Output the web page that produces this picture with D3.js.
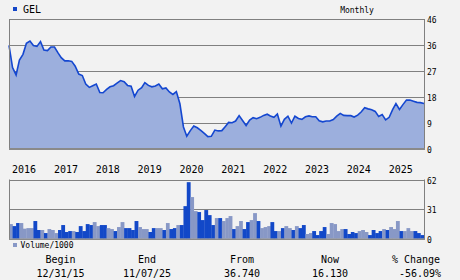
<!DOCTYPE html>
<html>
<head>
<meta charset="utf-8">
<script src="https://cdn.jsdelivr.net/npm/d3@7"></script>
<style>
  html, body { margin: 0; padding: 0; background: #f2f2f2; }
  svg { display: block; }
  text { font-family: "DejaVu Sans Mono", monospace; fill: #000; }
</style>
</head>
<body>
<div id="chart"></div>
<script>
// monthly closes, Dec 2015 .. Nov 2025
const closes = [
  36.7, 28.8, 26.2, 31.5, 33.5, 37.4, 38.2, 36.6, 36.3, 38.0,
  35.0, 34.8, 36.1, 36.1, 34.0, 32.3, 31.2, 31.2, 31.0, 29.3,
  26.5, 26.0, 23.0, 21.8, 22.4, 23.0, 20.0, 19.9, 21.1, 22.0,
  22.4, 23.3, 24.2, 23.8, 22.5, 22.2, 18.6, 20.8, 21.7, 23.5,
  22.5, 22.0, 22.3, 23.0, 21.3, 21.6, 20.2, 19.3, 20.3, 16.0,
  7.8, 4.5, 6.5, 8.1, 7.5, 6.6, 5.5, 4.4, 4.5, 6.7,
  6.4, 6.5, 8.0, 9.4, 9.3, 9.9, 11.8, 10.1, 8.3, 10.2,
  11.1, 10.7, 11.2, 11.9, 12.3, 11.7, 11.2, 12.4, 8.1, 10.5,
  11.6, 9.2, 11.6, 10.8, 10.5, 11.4, 11.7, 11.4, 11.4, 10.0,
  9.6, 9.9, 9.9, 10.4, 11.6, 12.6, 11.9, 11.8, 11.8, 11.3,
  12.0, 13.1, 14.6, 14.2, 13.9, 13.3, 11.5, 12.2, 10.3, 11.2,
  14.0, 16.1, 14.0, 15.7, 17.3, 17.3, 16.9, 16.5, 16.4, 16.13
];

// volume in thousands, one bar per month
const volumes = [
  15.3, 13.2, 16.4, 16.4, 10.5, 11.1, 11.1, 18.5, 9.1, 9.1,
  5.9, 10.1, 9.1, 5.9, 9.1, 14.3, 7.0, 8.0, 8.0, 7.0,
  13.2, 8.0, 15.3, 14.3, 17.4, 13.2, 14.3, 14.3, 11.1, 10.1,
  8.0, 12.2, 17.4, 11.1, 11.1, 9.1, 18.5, 12.2, 10.1, 10.1,
  7.0, 11.1, 11.1, 11.1, 9.1, 16.4, 10.1, 11.1, 14.3, 14.3,
  34.1, 59.2, 43.6, 28.9, 27.9, 19.5, 30.0, 24.7, 14.3, 21.6,
  21.6, 18.5, 21.6, 23.7, 10.1, 13.2, 18.5, 10.1, 17.4, 19.5,
  26.8, 18.5, 11.1, 12.2, 13.2, 17.4, 8.0, 8.0, 11.1, 13.2,
  11.1, 9.1, 13.2, 11.1, 14.3, 4.9, 5.9, 8.0, 3.8, 8.0,
  12.2, 4.9, 16.4, 15.3, 8.0, 10.1, 10.1, 4.9, 7.0, 5.9,
  8.0, 9.1, 7.0, 3.8, 9.1, 5.9, 8.0, 10.1, 9.1, 12.2,
  10.1, 18.5, 8.0, 8.0, 11.1, 8.0, 8.0, 5.9, 3.8
];
// 1 = up month (light bar), 0 = down month (dark bar)
const volUp = [
  1,0,0,1,1,1,1,0,0,1, 0,1,1,1,0,0,0,0,1,0,
  0,0,0,0,1,1,0,0,1,1, 0,1,1,0,0,0,0,1,1,1,
  0,0,1,1,0,1,0,0,1,0, 0,0,1,1,0,0,0,0,0,1,
  0,1,1,1,0,1,1,0,0,1, 1,0,1,1,1,0,0,1,0,1,
  1,0,1,0,0,1,1,0,0,0, 0,1,1,1,1,1,0,0,0,0,
  1,1,1,0,0,0,0,1,0,1, 1,1,0,1,1,1,0,0,0
];

const priceTicks = [0, 9.2, 18.4, 27.6, 36.8, 46];
const volTicks = [0, 31, 62];
const yearLabels = [2016, 2017, 2018, 2019, 2020, 2021, 2022, 2023, 2024, 2025];

const statHeads = ['Begin', 'End', 'From', 'Now', '% Change'];
const statVals = ['12/31/15', '11/07/25', '36.740', '16.130', '-56.09%'];

const W = 460, H = 280;
const plot = { left: 9, right: 424, top: 19, bottom: 149 };
const vplot = { top: 179.5, bottom: 238.7 };

const months = closes.map((d, i) => d3.timeMonth.offset(new Date(2015, 11, 1), i));

const svg = d3.select('#chart').append('svg')
  .attr('width', W)
  .attr('height', H);

svg.append('rect').attr('width', W).attr('height', H).attr('fill', '#f2f2f2');

const x = d3.scaleTime()
  .domain([months[0], months[months.length - 1]])
  .range([plot.left, plot.right]);

const y = d3.scaleLinear().domain([0, 46]).range([plot.bottom, plot.top]);
const yv = d3.scaleLinear().domain([0, 62]).range([vplot.bottom, vplot.top]);

// header
svg.append('rect').attr('x', 13).attr('y', 7).attr('width', 4).attr('height', 4).attr('fill', '#1446c8');
svg.append('text').attr('x', 23).attr('y', 9).attr('dy', '0.35em')
  .style('font-size', '10px').text('GEL');
svg.append('text').attr('x', 357).attr('y', 10).attr('dy', '0.35em')
  .attr('text-anchor', 'middle').style('font-size', '8px').text('Monthly');

// price panel grid
const grid = svg.append('g');
grid.selectAll('line').data(priceTicks.filter(d => d > 0)).enter()
  .append('line')
  .attr('x1', plot.left).attr('x2', plot.right)
  .attr('y1', d => Math.round(y(d)) + 0.5).attr('y2', d => Math.round(y(d)) + 0.5)
  .attr('stroke', '#808080').attr('stroke-width', 1);

const area = d3.area()
  .x((d, i) => x(months[i]))
  .y0(plot.bottom)
  .y1(d => y(d));

const line = d3.line()
  .x((d, i) => x(months[i]))
  .y(d => y(d));

svg.append('path').datum(closes)
  .attr('d', area)
  .attr('fill', '#9cafdd');

svg.append('path').datum(closes)
  .attr('d', line)
  .attr('fill', 'none')
  .attr('stroke', '#1447d0')
  .attr('stroke-width', 1.6);

// borders
svg.append('line').attr('x1', plot.left + 0.5).attr('x2', plot.left + 0.5)
  .attr('y1', plot.top).attr('y2', plot.bottom + 1).attr('stroke', '#808080');
svg.append('line').attr('x1', plot.right + 0.5).attr('x2', plot.right + 0.5)
  .attr('y1', plot.top).attr('y2', plot.bottom + 1).attr('stroke', '#808080');
svg.append('line').attr('x1', plot.left).attr('x2', plot.right + 1)
  .attr('y1', plot.bottom).attr('y2', plot.bottom).attr('stroke', '#8a8a8a').attr('stroke-width', 2);

svg.append('g').selectAll('text').data(priceTicks).enter()
  .append('text')
  .attr('x', 427).attr('y', d => y(d) + 1.5).attr('dy', '0.35em')
  .style('font-size', '8px')
  .text(d => Math.floor(d));

// year labels
svg.append('g').selectAll('text').data(yearLabels).enter()
  .append('text')
  .attr('x', d => x(new Date(d, 0, 1)) - 0.5)
  .attr('y', 169.5).attr('dy', '0.35em')
  .style('font-size', '10px')
  .text(d => d);

// volume panel
svg.append('line').attr('x1', plot.left).attr('x2', plot.right)
  .attr('y1', Math.round(yv(31)) + 0.5).attr('y2', Math.round(yv(31)) + 0.5)
  .attr('stroke', '#808080');

svg.append('g').selectAll('rect').data(volumes).enter()
  .append('rect')
  .attr('x', (d, i) => x(months[i]))
  .attr('width', (d, i) => x(months[i + 1]) - x(months[i]) + 0.3)
  .attr('y', d => yv(d))
  .attr('height', d => vplot.bottom - yv(d))
  .attr('fill', (d, i) => volUp[i] ? '#8898c6' : '#1248c8');

svg.append('line').attr('x1', plot.left).attr('x2', plot.right + 1)
  .attr('y1', Math.round(vplot.top) + 0.5).attr('y2', Math.round(vplot.top) + 0.5).attr('stroke', '#808080');
svg.append('line').attr('x1', plot.left + 0.5).attr('x2', plot.left + 0.5)
  .attr('y1', vplot.top).attr('y2', vplot.bottom + 1).attr('stroke', '#808080');
svg.append('line').attr('x1', plot.right + 0.5).attr('x2', plot.right + 0.5)
  .attr('y1', vplot.top).attr('y2', vplot.bottom + 1).attr('stroke', '#808080');
svg.append('line').attr('x1', plot.left).attr('x2', plot.right + 1)
  .attr('y1', vplot.bottom + 0.5).attr('y2', vplot.bottom + 0.5).attr('stroke', '#8a8a8a').attr('stroke-width', 1.5);

svg.append('g').selectAll('text').data(volTicks).enter()
  .append('text')
  .attr('x', 427).attr('y', d => yv(d) + 1.5).attr('dy', '0.35em')
  .style('font-size', '8px')
  .text(d => d);

// volume legend
svg.append('rect').attr('x', 13).attr('y', 243).attr('width', 4).attr('height', 4).attr('fill', '#8898c6');
svg.append('text').attr('x', 20.5).attr('y', 245).attr('dy', '0.35em')
  .style('font-size', '8px').text('Volume/1000');

// summary table
const colX = [60.5, 147, 242, 330, 416];
svg.append('g').selectAll('text').data(statHeads).enter()
  .append('text')
  .attr('x', (d, i) => colX[i]).attr('y', 259).attr('dy', '0.35em')
  .attr('text-anchor', 'middle').style('font-size', '10px')
  .text(d => d);
svg.append('g').selectAll('text').data(statVals).enter()
  .append('text')
  .attr('x', (d, i) => i === 4 ? 420 : colX[i]).attr('y', 273.5).attr('dy', '0.35em')
  .attr('text-anchor', 'middle').style('font-size', '10px')
  .text(d => d);
</script>
</body>
</html>
